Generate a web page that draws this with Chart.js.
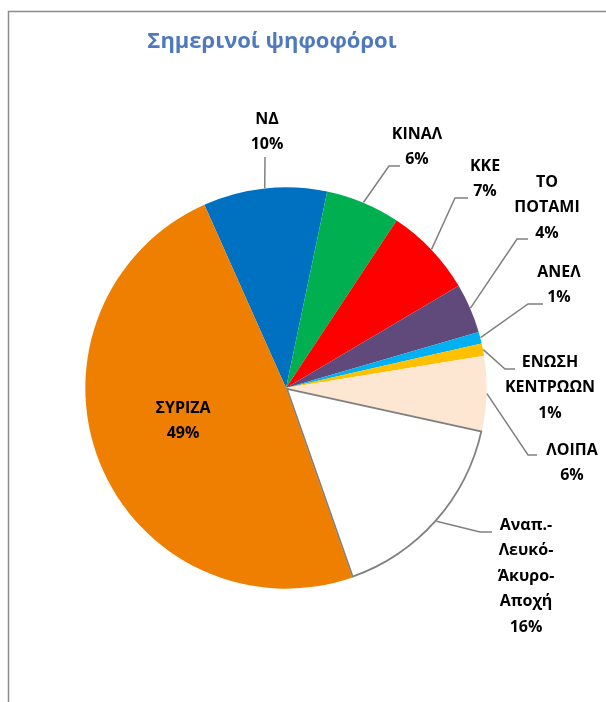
<!DOCTYPE html>
<html>
<head>
<meta charset="utf-8">
<script src="https://cdn.jsdelivr.net/npm/chart.js@4.4.0/dist/chart.umd.min.js"></script>
<style>
    html, body { margin: 0; padding: 0; background: #fff; }
    #wrap { position: relative; width: 606px; height: 702px; }
</style>
</head>
<body>
<div id="wrap"><canvas id="myChart" width="606" height="702"></canvas></div>
<script>
// data
const parties = ['ΝΔ', 'ΚΙΝΑΛ', 'ΚΚΕ', 'ΤΟ ΠΟΤΑΜΙ', 'ΑΝΕΛ', 'ΕΝΩΣΗ ΚΕΝΤΡΩΩΝ', 'ΛΟΙΠΑ', 'Αναπ.-Λευκό-Άκυρο-Αποχή', 'ΣΥΡΙΖΑ'];
const partyLines = [['ΝΔ'], ['ΚΙΝΑΛ'], ['ΚΚΕ'], ['ΤΟ', 'ΠΟΤΑΜΙ'], ['ΑΝΕΛ'], ['ΕΝΩΣΗ', 'ΚΕΝΤΡΩΩΝ'], ['ΛΟΙΠΑ'], ['Αναπ.-', 'Λευκό-', 'Άκυρο-', 'Αποχή'], ['ΣΥΡΙΖΑ']];
const shares = [9.96, 6.0, 7.2, 4.0, 0.95, 1.0, 6.0, 16.2, 48.7];
const chartTitle = 'Σημερινοί ψηφοφόροι';

const sliceColors = ['#0070C0', '#00B050', '#FF0000', '#604A7B', '#00B0F0', '#FFC000', '#FDE6D2', '#FFFFFF', '#EE7F00'];
const sliceBorders = [0, 0, 0, 0, 0, 0, 0, 1.5, 0];

// where each label sits (text centre x, first line centre y) and its leader elbow
const labelPos = [
    { x: 267, y: 119, elbow: [265, 157], endX: 265 },
    { x: 417, y: 134, elbow: [389, 166], endX: 400 },
    { x: 485, y: 166, elbow: [455, 198], endX: 468 },
    { x: 547, y: 182, elbow: [517, 239], endX: 528 },
    { x: 559, y: 272, elbow: [528, 304], endX: 543 },
    { x: 550, y: 362, elbow: [505, 369], endX: 515 },
    { x: 572, y: 450, elbow: [528, 455], endX: 537 },
    { x: 526, y: 525, elbow: [480, 532], endX: 492 },
    { x: 183, y: 408, elbow: null }
];

const labelPlugin = {
    id: 'pieLabels',
    beforeDraw(chart) {
        const ctx = chart.ctx;
        ctx.save();
        // frame of the excel chart area
        ctx.strokeStyle = '#8C8C8C';
        ctx.lineWidth = 1.5;
        ctx.beginPath();
        ctx.moveTo(8.5, 702);
        ctx.lineTo(8.5, 11.5);
        ctx.lineTo(606, 11.5);
        ctx.stroke();
        // title
        ctx.fillStyle = '#5079BD';
        ctx.font = 'bold 22px "Open Sans"';
        ctx.textAlign = 'center';
        ctx.textBaseline = 'alphabetic';
        ctx.fillText(chartTitle, 272, 48);
        ctx.restore();
    },
    afterDraw(chart) {
        const ctx = chart.ctx;
        const meta = chart.getDatasetMeta(0);
        const total = shares.reduce((a, b) => a + b, 0);
        ctx.save();
        meta.data.forEach((arc, i) => {
            const pos = labelPos[i];
            const mid = (arc.startAngle + arc.endAngle) / 2;
            const ax = arc.x + Math.cos(mid) * arc.outerRadius;
            const ay = arc.y + Math.sin(mid) * arc.outerRadius;
            if (pos.elbow) {
                ctx.strokeStyle = '#808080';
                ctx.lineWidth = 1.5;
                ctx.beginPath();
                ctx.moveTo(ax, ay);
                ctx.lineTo(pos.elbow[0], pos.elbow[1]);
                ctx.lineTo(pos.endX, pos.elbow[1]);
                ctx.stroke();
            }
            const lines = partyLines[i].concat([Math.round(shares[i] / total * 100) + '%']);
            ctx.fillStyle = '#000';
            ctx.font = 'bold 16px "Open Sans"';
            ctx.textAlign = 'center';
            ctx.textBaseline = 'middle';
            lines.forEach((t, k) => ctx.fillText(t, pos.x, pos.y + k * 25.5));
        });
        ctx.restore();
    }
};

const ctx = document.getElementById('myChart');

new Chart(ctx, {
    type: 'pie',
    data: {
        labels: parties,
        datasets: [{
            data: shares,
            backgroundColor: sliceColors,
            borderColor: '#808080',
            borderWidth: sliceBorders,
            borderAlign: 'inner',
            radius: 201
        }]
    },
    options: {
        responsive: false,
        animation: false,
        rotation: -24,
        layout: { padding: { left: 85, right: 119, top: 187, bottom: 113 } },
        plugins: {
            legend: { display: false },
            tooltip: { enabled: false },
            title: { display: false }
        }
    },
    plugins: [labelPlugin]
});
</script>
</body>
</html>
